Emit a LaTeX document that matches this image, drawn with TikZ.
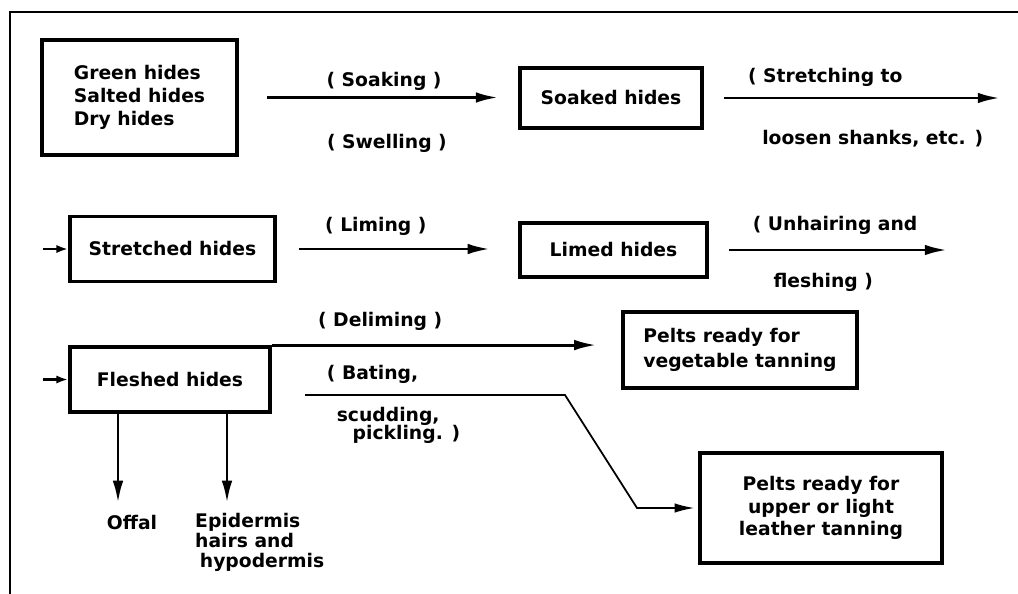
\documentclass[tikz,border=0pt]{standalone}
\usepackage{fontspec}
\setmainfont{DejaVu Sans}
\usetikzlibrary{arrows.meta}

\begin{document}
\begin{tikzpicture}[x=0.03cm, y=-0.03cm, >={Latex[length=19pt,width=9pt]},
        font=\bfseries\fontsize{16}{19.5}\selectfont,
        stagebox/.style={draw, line width=3.3pt, inner sep=0pt},
        flow/.style={->, line width=2.5pt},
        feed/.style={-{Latex[length=10pt,width=7pt]}, line width=2.5pt}]
        \useasboundingbox (0,0) rectangle (1018,594);
        \draw[line width=1.5pt] (10,594) -- (10,12) -- (1018,12);

        \node[stagebox, minimum width=5.85cm, minimum height=3.45cm, align=left] (raw) at (139.5,97.5) {Green hides\\Salted hides\\Dry hides};
        \node[stagebox, minimum width=5.46cm, minimum height=1.8cm] (soaked) at (611,98) {Soaked hides};
        \node[stagebox, minimum width=6.15cm, minimum height=1.95cm] (stretched) at (172.5,249) {Stretched hides};
        \node[stagebox, minimum width=5.61cm, minimum height=1.62cm] (limed) at (613.5,250) {Limed hides};
        \node[stagebox, minimum width=6cm, minimum height=1.95cm] (fleshed) at (170,379.5) {Fleshed hides};
        \node[stagebox, minimum width=7.02cm, minimum height=2.28cm, align=left] (veg) at (740,350) {Pelts ready for\\[2pt]vegetable tanning};
        \node[stagebox, minimum width=7.26cm, minimum height=3.3cm, align=center] (light) at (821,508) {Pelts ready for\\upper or light\\leather tanning};
        \node (offal) at (132,523) {Offal};
        \node[anchor=north west, inner sep=0pt, align=left, font=\bfseries\fontsize{16}{17}\selectfont] (epi) at (195,513) {Epidermis\\hairs and\\\hspace{4pt}hypodermis};

        \coordinate (s1) at (1000,98);
        \coordinate (s2) at (43,249);
        \coordinate (s3) at (947,250);
        \coordinate (s4) at (43,379.5);
        \coordinate (b0) at (305,395);
        \coordinate (b1) at (565,395);
        \coordinate (b2) at (637,508);
        \coordinate (o1) at (118,503);
        \coordinate (e1) at (227,503);

        \draw[flow, shorten <=24pt, shorten >=17pt] (raw.east) -- (raw.east -| soaked.west)
            node[pos=0.52, yshift=14pt] {( Soaking )}
            node[pos=0.53, yshift=-39pt] {( Swelling )};
        \draw[flow, shorten <=17pt] (soaked.east) -- (s1)
            node[pos=0.41, yshift=17.5pt] {( Stretching to}
            node[pos=0.57, yshift=-35pt] {loosen shanks, etc. )};
        \draw[feed] (s2) -- (stretched.west);
        \draw[flow, shorten <=19pt, shorten >=24pt] (stretched.east) -- (stretched.east -| limed.west)
            node[pos=0.41, yshift=19.5pt] {( Liming )};
        \draw[flow, shorten <=17pt] (limed.east) -- (s3)
            node[pos=0.53, yshift=21pt] {( Unhairing and}
            node[pos=0.48, yshift=-27.5pt] {fleshing )};
        \draw[feed] (s4) -- (fleshed.west);
        \draw[flow, shorten >=21pt] (fleshed.north east) -- (fleshed.north east -| veg.west)
            node[pos=0.31, yshift=20.5pt] {( Deliming )};
        \draw[-{Latex[length=17pt,width=8pt]}, line width=1.5pt, shorten >=3pt] (b0) --
            node[pos=0.26, yshift=18pt] {( Bating,}
            node[pos=0.32, yshift=-18.5pt] {scudding,}
            node[pos=0.39, yshift=-34pt] {pickling. )} (b1) -- (b2) -- (light.west);
        \draw[flow] (fleshed.south -| o1) -- (o1);
        \draw[flow] (fleshed.south -| e1) -- (e1);
\end{tikzpicture}
\end{document}
